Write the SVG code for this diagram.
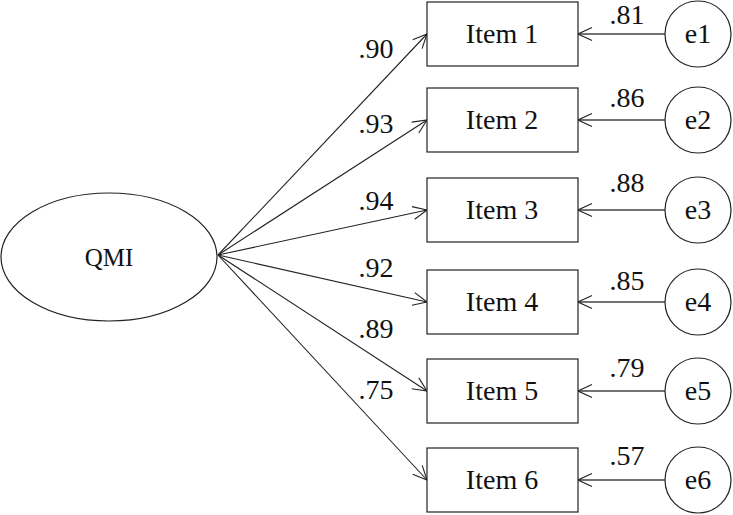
<svg xmlns="http://www.w3.org/2000/svg" width="733" height="515" viewBox="0 0 733 515">
<style>
.n{fill:#fff;stroke:#222;stroke-width:1.2}
.t{font-family:"Liberation Serif","Times New Roman",serif;font-size:28px;fill:#111;text-anchor:middle}
.c{stroke:#222;stroke-width:1.1;fill:none}
.e{stroke:#444;stroke-width:1.6;fill:none}
</style>
<defs>
<marker id="ah" viewBox="0 0 16 16" refX="15" refY="8" markerWidth="16" markerHeight="16" markerUnits="userSpaceOnUse" orient="auto">
<path d="M1,1.5 L15,8 L1,14.5" fill="none" stroke="#222" stroke-width="1.1"/>
</marker>
</defs>
<g id="connectors">
<line class="c" x1="218" y1="255" x2="427" y2="34" marker-end="url(#ah)"/>
<line class="c" x1="218" y1="255" x2="427" y2="120" marker-end="url(#ah)"/>
<line class="c" x1="218" y1="255" x2="427" y2="210" marker-end="url(#ah)"/>
<line class="c" x1="218" y1="255" x2="427" y2="302" marker-end="url(#ah)"/>
<line class="c" x1="218" y1="255" x2="427" y2="391" marker-end="url(#ah)"/>
<line class="c" x1="218" y1="255" x2="427" y2="480" marker-end="url(#ah)"/>
<line class="e" x1="665" y1="34" x2="578" y2="34" marker-end="url(#ah)"/>
<line class="e" x1="665" y1="120" x2="578" y2="120" marker-end="url(#ah)"/>
<line class="e" x1="665" y1="210" x2="578" y2="210" marker-end="url(#ah)"/>
<line class="e" x1="665" y1="302" x2="578" y2="302" marker-end="url(#ah)"/>
<line class="e" x1="665" y1="391" x2="578" y2="391" marker-end="url(#ah)"/>
<line class="e" x1="665" y1="480" x2="578" y2="480" marker-end="url(#ah)"/>
<text class="t" x="376" y="58">.90</text>
<text class="t" x="376" y="133">.93</text>
<text class="t" x="376" y="210">.94</text>
<text class="t" x="376" y="277">.92</text>
<text class="t" x="376" y="338">.89</text>
<text class="t" x="376" y="399">.75</text>
<text class="t" x="627" y="24">.81</text>
<text class="t" x="627" y="107">.86</text>
<text class="t" x="627" y="192">.88</text>
<text class="t" x="627" y="290">.85</text>
<text class="t" x="627" y="377">.79</text>
<text class="t" x="627" y="465">.57</text>
</g>
<g id="QMI"><ellipse class="n" cx="109" cy="257" rx="108" ry="64"/><text class="t" x="109" y="266" style="font-size:25px">QMI</text></g>
<g id="item1"><rect class="n" x="427" y="2" width="151" height="64"/><text class="t" x="502" y="43">Item 1</text></g>
<g id="item2"><rect class="n" x="427" y="88" width="151" height="64"/><text class="t" x="502" y="129">Item 2</text></g>
<g id="item3"><rect class="n" x="427" y="178" width="151" height="64"/><text class="t" x="502" y="219">Item 3</text></g>
<g id="item4"><rect class="n" x="427" y="270" width="151" height="64"/><text class="t" x="502" y="311">Item 4</text></g>
<g id="item5"><rect class="n" x="427" y="359" width="151" height="64"/><text class="t" x="502" y="400">Item 5</text></g>
<g id="item6"><rect class="n" x="427" y="448" width="151" height="64"/><text class="t" x="502" y="489">Item 6</text></g>
<g id="e1"><circle class="n" cx="698" cy="34" r="33"/><text class="t" x="698" y="43">e1</text></g>
<g id="e2"><circle class="n" cx="698" cy="120" r="33"/><text class="t" x="698" y="129">e2</text></g>
<g id="e3"><circle class="n" cx="698" cy="210" r="33"/><text class="t" x="698" y="219">e3</text></g>
<g id="e4"><circle class="n" cx="698" cy="302" r="33"/><text class="t" x="698" y="311">e4</text></g>
<g id="e5"><circle class="n" cx="698" cy="391" r="33"/><text class="t" x="698" y="400">e5</text></g>
<g id="e6"><circle class="n" cx="698" cy="480" r="33"/><text class="t" x="698" y="489">e6</text></g>
</svg>
